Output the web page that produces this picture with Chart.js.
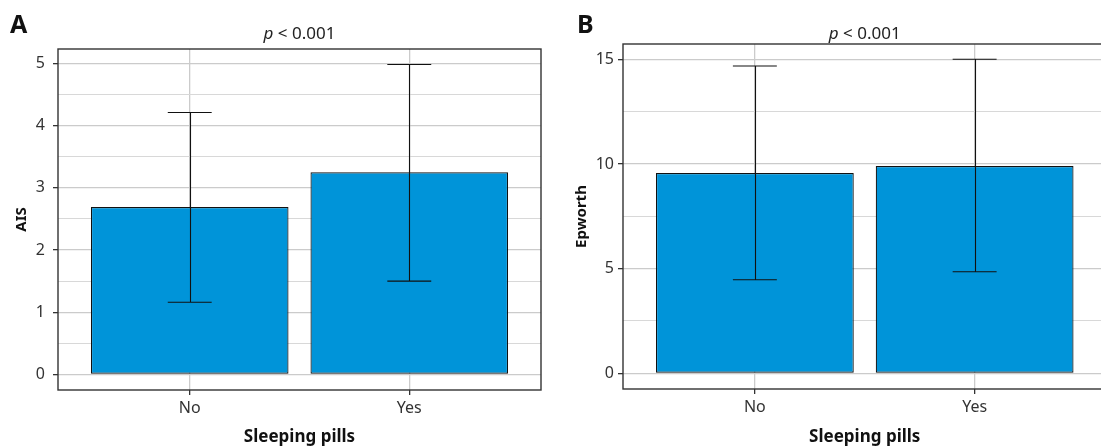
<!DOCTYPE html>
<html>
<head>
<meta charset="utf-8">
<script src="https://cdn.jsdelivr.net/npm/chart.js@4/dist/chart.umd.min.js"></script>
<style>
  html, body { margin: 0; padding: 0; background: #fff; overflow: hidden; width: 1101px; height: 447px; }
  .panel { position: absolute; top: 0; height: 447px; }
  #wrapA { left: 0; width: 560px; }
  #wrapB { left: 560px; width: 566px; }
</style>
</head>
<body>
<div class="panel" id="wrapA"><canvas id="chartA"></canvas></div>
<div class="panel" id="wrapB"><canvas id="chartB"></canvas></div>
<script>
// data
const categories = ['No', 'Yes'];

const aisMean = [2.69, 3.25];
const aisLow = [1.16, 1.50];
const aisHigh = [4.21, 4.98];
const aisTicks = [0, 1, 2, 3, 4, 5];
const aisMinor = [0.5, 1.5, 2.5, 3.5, 4.5];

const epMean = [9.57, 9.90];
const epLow = [4.47, 4.85];
const epHigh = [14.68, 15.0];
const epTicks = [0, 5, 10, 15];
const epMinor = [2.5, 7.5, 12.5];

const FONT = "'Noto Sans', sans-serif";
const barColor = '#0094d9';
const gridMajor = '#cbcbcb';
const gridMinor = '#d8d8d8';

// error bars + frame + letter + p-value title + y title
const extras = {
    id: 'extras',
    afterDatasetsDraw(chart, args, opts) {
        const ctx = chart.ctx;
        const x = chart.scales.x, y = chart.scales.y;
        ctx.save();
        ctx.strokeStyle = '#111';
        ctx.lineWidth = 1.1;
        opts.low.forEach((lo, i) => {
            const pos = i + 1;
            const px = Math.round(x.getPixelForValue(pos)) + 0.5;
            const c1 = x.getPixelForValue(pos - 0.1), c2 = x.getPixelForValue(pos + 0.1);
            const yl = y.getPixelForValue(lo), yh = y.getPixelForValue(opts.high[i]);
            ctx.beginPath();
            ctx.moveTo(px, yl); ctx.lineTo(px, yh);
            ctx.moveTo(c1, yl); ctx.lineTo(c2, yl);
            ctx.moveTo(c1, yh); ctx.lineTo(c2, yh);
            ctx.stroke();
        });
        // panel border
        const a = chart.chartArea;
        ctx.strokeStyle = '#333';
        ctx.lineWidth = 1.4;
        ctx.strokeRect(a.left, a.top, a.right - a.left, a.bottom - a.top);

        // panel letter
        ctx.fillStyle = '#111';
        ctx.textBaseline = 'alphabetic';
        ctx.textAlign = 'left';
        ctx.font = 'bold 25px ' + FONT;
        ctx.fillText(opts.letter, opts.letterX, 33);

        // title: italic p, normal rest
        const cx = (a.left + a.right) / 2;
        ctx.font = 'italic 17px ' + FONT;
        const w1 = ctx.measureText('p').width;
        ctx.font = '17px ' + FONT;
        const rest = ' < 0.001';
        const w2 = ctx.measureText(rest).width;
        const sx = cx - (w1 + w2) / 2;
        ctx.fillStyle = '#222';
        ctx.font = 'italic 17px ' + FONT;
        ctx.fillText('p', sx, 39);
        ctx.font = '17px ' + FONT;
        ctx.fillText(rest, sx + w1, 39);

        // y axis title, rotated
        ctx.translate(opts.ytitleX, (a.top + a.bottom) / 2);
        ctx.rotate(-Math.PI / 2);
        ctx.textAlign = 'center';
        ctx.fillStyle = '#111';
        ctx.font = 'bold 15px ' + FONT;
        ctx.fillText(opts.ytitle, 0, 0);
        ctx.restore();
    }
};

function makeChart(id, cfg) {
    const minorSet = new Set(cfg.minor);
    return new Chart(document.getElementById(id), {
        type: 'bar',
        data: {
            datasets: [{
                data: categories.map((c, i) => ({ x: i + 1, y: cfg.mean[i] })),
                backgroundColor: barColor,
                borderColor: '#111',
                borderWidth: 1.2,
                borderSkipped: false,
                barPercentage: 0.9,
                categoryPercentage: 1
            }]
        },
        options: {
            responsive: true,
            maintainAspectRatio: false,
            animation: false,
            layout: { padding: { top: cfg.top, right: cfg.right, left: 0, bottom: 0 } },
            plugins: {
                legend: { display: false },
                tooltip: { enabled: false },
                extras: { low: cfg.low, high: cfg.high, letter: cfg.letter, letterX: cfg.letterX,
                          ytitle: cfg.ytitle, ytitleX: cfg.ytitleX }
            },
            scales: {
                x: {
                    type: 'linear',
                    min: 0.4,
                    max: 2.6,
                    offset: false,
                    afterBuildTicks: s => { s.ticks = categories.map((c, i) => ({ value: i + 1 })); },
                    afterFit: s => { s.height = cfg.xh; },
                    border: { display: false },
                    grid: { offset: false, color: gridMajor, lineWidth: 1.3, tickLength: 5, tickColor: '#333' },
                    ticks: {
                        autoSkip: false,
                        maxRotation: 0,
                        padding: 4,
                        color: '#333',
                        font: { family: FONT, size: 16 },
                        callback: v => categories[v - 1]
                    },
                    title: {
                        display: true,
                        text: 'Sleeping pills',
                        color: '#111',
                        padding: { top: 0, bottom: 0 },
                        font: { family: FONT, size: 17, weight: 'bold' }
                    }
                },
                y: {
                    min: cfg.min,
                    max: cfg.max,
                    afterBuildTicks: s => {
                        s.ticks = cfg.ticks.concat(cfg.minor).sort((p, q) => p - q).map(v => ({ value: v }));
                    },
                    afterFit: s => { s.width = cfg.yw; },
                    border: { display: false },
                    grid: {
                        color: c => minorSet.has(c.tick.value) ? gridMinor : gridMajor,
                        lineWidth: c => minorSet.has(c.tick.value) ? 1.1 : 1.3,
                        tickLength: 5,
                        tickColor: c => minorSet.has(c.tick.value) ? 'rgba(0,0,0,0)' : '#333'
                    },
                    ticks: {
                        autoSkip: false,
                        padding: cfg.tickPad,
                        color: '#333',
                        font: { family: FONT, size: 16 },
                        callback: v => minorSet.has(v) ? '' : String(v)
                    },
                    title: { display: false }
                }
            }
        },
        plugins: [extras]
    });
}

makeChart('chartA', {
    mean: aisMean, low: aisLow, high: aisHigh, ticks: aisTicks, minor: aisMinor,
    min: -0.25, max: 5.23, ytitle: 'AIS', letter: 'A', letterX: 10, ytitleX: 26,
    top: 49, right: 19, xh: 57, yw: 58, tickPad: 8
});

makeChart('chartB', {
    mean: epMean, low: epLow, high: epHigh, ticks: epTicks, minor: epMinor,
    min: -0.75, max: 15.73, ytitle: 'Epworth', letter: 'B', letterX: 17, ytitleX: 26,
    top: 44, right: 19.5, xh: 58, yw: 63, tickPad: 4
});
</script>
</body>
</html>
